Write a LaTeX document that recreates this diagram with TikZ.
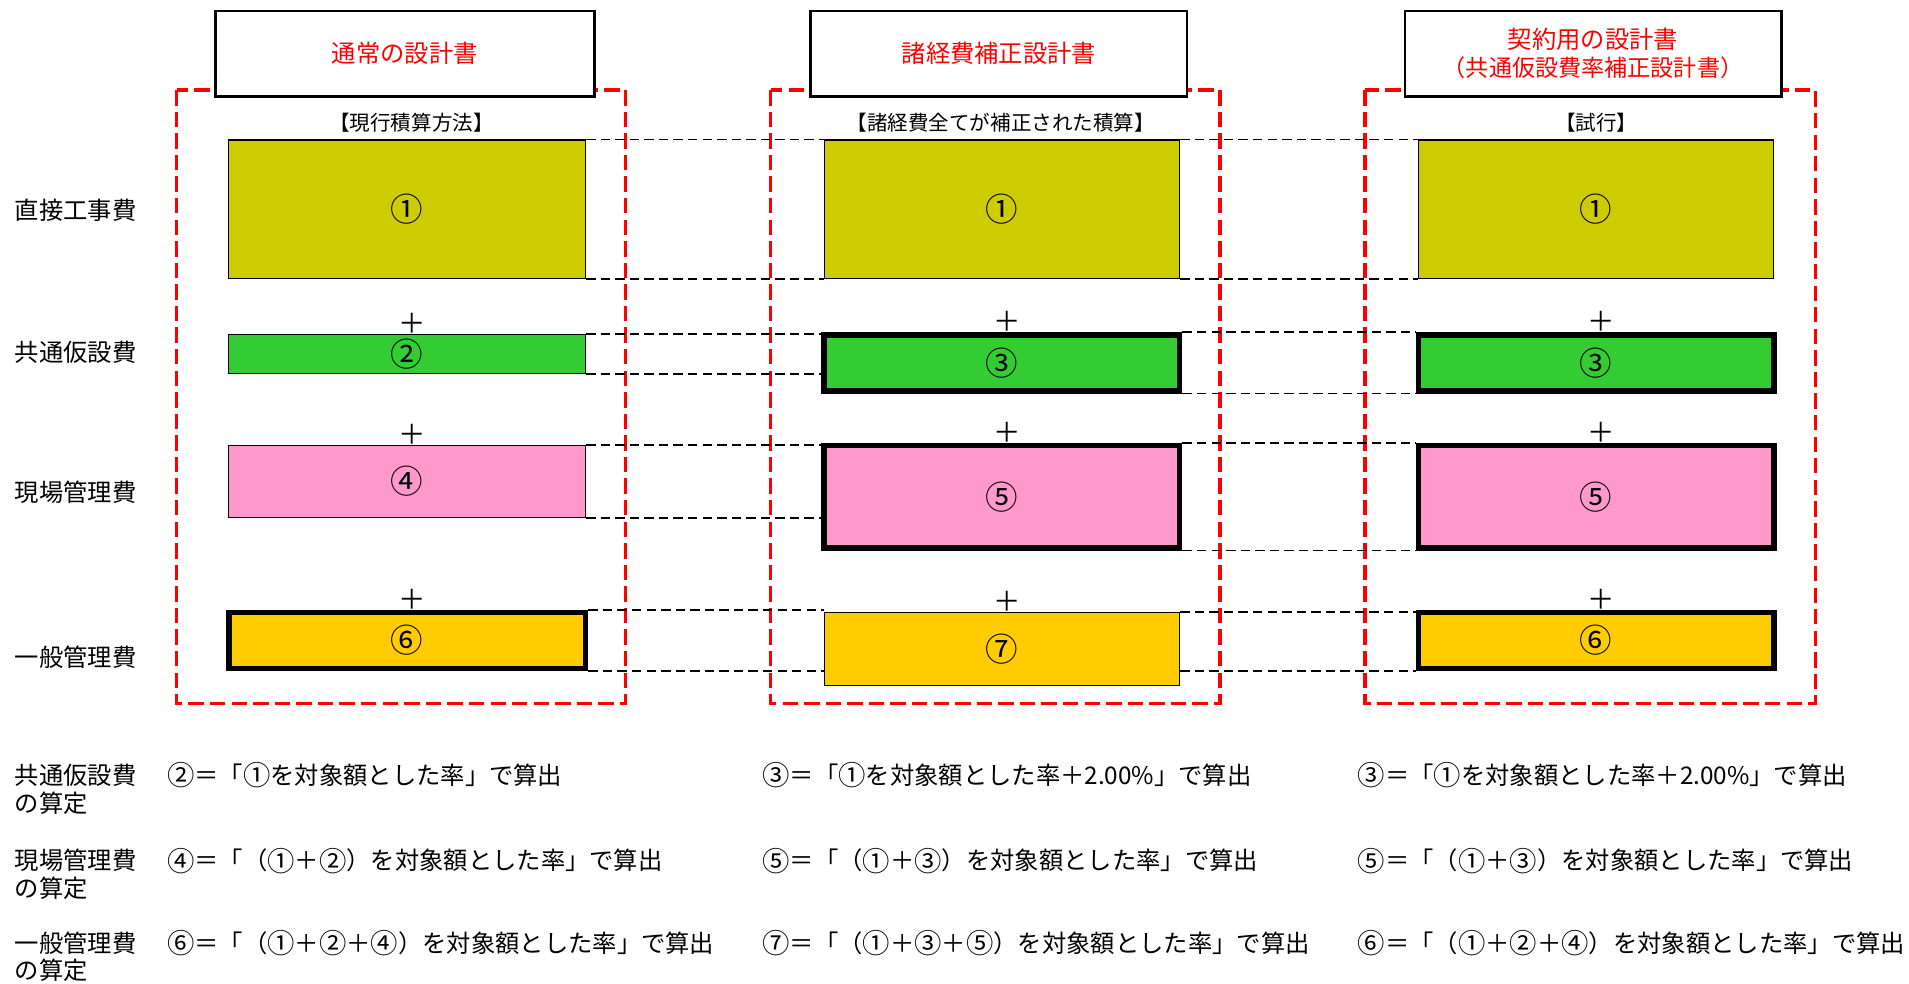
\documentclass[tikz,border=0pt]{standalone}
\usepackage{fontspec}
\setmainfont{Noto Sans CJK JP}
\usepackage{tikz}
\usetikzlibrary{positioning,fit}

\definecolor{olivebox}{HTML}{CCCC00}
\definecolor{greenbox}{HTML}{33CC33}
\definecolor{pinkbox}{HTML}{FF99CC}
\definecolor{goldbox}{HTML}{FFCC00}

\newcommand{\cn}[1]{{\fontsize{16}{16}\selectfont\raisebox{-0.8pt}{#1}}}

\tikzset{
  headbox/.style={draw, line width=1.6pt, fill=white, inner sep=0pt},
  headtext/.style={inner sep=0pt, text=red, align=center},
  redframe/.style={draw=red, line width=2pt, dash pattern=on 9pt off 3.6pt},
  costthin/.style={draw, line width=0.6pt, inner sep=0pt},
  costthick/.style={draw, line width=3.2pt, inner sep=0pt},
  costno/.style={inner sep=0pt, font=\fontsize{19}{19}\selectfont},
  guide/.style={line width=1pt, dash pattern=on 5.5pt off 3pt},
  plussign/.style={inner sep=0pt, xshift=3pt, font=\fontsize{16}{16}\selectfont},
  subtitle/.style={inner sep=0pt, font=\fontsize{12}{14}\selectfont},
  rowlabel/.style={anchor=west, inner sep=0pt}
}

\begin{document}
\begin{tikzpicture}[x=0.025cm,y=-0.025cm,font=\fontsize{14.2}{16.5}\selectfont]
\useasboundingbox (0,0) rectangle (1568,808);
%%frames
\draw[redframe] (145,74) rectangle (514,578);
\draw[redframe] (633,74) rectangle (1002,578);
\draw[redframe] (1121,74) rectangle (1491,578);

%%headings
\node[headbox, fit={(177,9) (488,79)}] (hn) {};
\node[headbox, fit={(666,9) (975,79)}] (hs) {};
\node[headbox, fit={(1154,9) (1463,79)}] (hk) {};
\node[headtext] (hnt) at (hn.center) {通常の設計書};
\node[headtext] (hst) at (hs.center) {諸経費補正設計書};
\node[headtext] (hkt) at (hk.center) {契約用の設計書\\{\fontsize{13.5}{16}\selectfont （共通仮設費率補正設計書）}};
\node[subtitle] (tn) at (338,101) {【現行積算方法】};
\node[subtitle] (ts) at (822,101) {【諸経費全てが補正された積算】};
\node[subtitle] (tk) at (1311,101) {【試行】};

%%cost blocks
\node[costthin, fill=olivebox, fit={(188,115) (481,229)}] (n1) {};
\node[costthin, fill=olivebox, fit={(677,115) (969,229)}] (s1) {};
\node[costthin, fill=olivebox, fit={(1165,115) (1457,229)}] (k1) {};
\node[costthin, fill=greenbox, fit={(188,275) (481,307)}] (n2) {};
\node[costthick, fill=greenbox, fit={(677,275) (969,321)}] (s2) {};
\node[costthick, fill=greenbox, fit={(1165,275) (1457,321)}] (k2) {};
\node[costthin, fill=pinkbox, fit={(188,366) (481,425)}] (n3) {};
\node[costthick, fill=pinkbox, fit={(677,366) (969,450)}] (s3) {};
\node[costthick, fill=pinkbox, fit={(1165,366) (1457,450)}] (k3) {};
\node[costthick, fill=goldbox, fit={(188,503) (481,549)}] (n4) {};
\node[costthin, fill=goldbox, fit={(677,503) (969,563)}] (s4) {};
\node[costthick, fill=goldbox, fit={(1165,503) (1457,549)}] (k4) {};

\node[costno] (n1t) at (n1.center) {①};
\node[costno] (s1t) at (s1.center) {①};
\node[costno] (k1t) at (k1.center) {①};
\node[costno] (n2t) at (n2.center) {②};
\node[costno] (s2t) at (s2.center) {③};
\node[costno] (k2t) at (k2.center) {③};
\node[costno] (n3t) at (n3.center) {④};
\node[costno] (s3t) at (s3.center) {⑤};
\node[costno] (k3t) at (k3.center) {⑤};
\node[costno] (n4t) at (n4.center) {⑥};
\node[costno] (s4t) at (s4.center) {⑦};
\node[costno] (k4t) at (k4.center) {⑥};

%%plus signs
\node[plussign, above=0pt of n2] (pn2) {＋};
\node[plussign, above=0pt of s2] (ps2) {＋};
\node[plussign, above=0pt of k2] (pk2) {＋};
\node[plussign, above=0pt of n3] (pn3) {＋};
\node[plussign, above=0pt of s3] (ps3) {＋};
\node[plussign, above=0pt of k3] (pk3) {＋};
\node[plussign, above=0pt of n4] (pn4) {＋};
\node[plussign, above=0pt of s4] (ps4) {＋};
\node[plussign, above=0pt of k4] (pk4) {＋};

%%guides
\draw[guide] (n1.north east) -- (n1.north east -| s1.west);
\draw[guide] (s1.north east) -- (s1.north east -| k1.west);
\draw[guide] (n1.south east) -- (n1.south east -| s1.west);
\draw[guide] (s1.south east) -- (s1.south east -| k1.west);
\draw[guide] (n2.north east) -- (n2.north east -| s2.west);
\draw[guide] (s2.north east) -- (s2.north east -| k2.west);
\draw[guide] (n2.south east) -- (n2.south east -| s2.west);
\draw[guide] (s2.south east) -- (s2.south east -| k2.west);
\draw[guide] (n3.north east) -- (n3.north east -| s3.west);
\draw[guide] (s3.north east) -- (s3.north east -| k3.west);
\draw[guide] (n3.south east) -- (n3.south east -| s3.west);
\draw[guide] (s3.south east) -- (s3.south east -| k3.west);
\draw[guide] (n4.north east) -- (n4.north east -| s4.west);
\draw[guide] (s4.north east) -- (s4.north east -| k4.west);
\draw[guide] (n4.south east) -- (n4.south east -| s4.west);
\draw[guide] (k4.south west -| s4.east) -- (k4.south west);

%%row labels
\node[rowlabel] (l1) at (12,173) {直接工事費};
\node[rowlabel] (l2) at (12,289) {共通仮設費};
\node[rowlabel] (l3) at (12,404) {現場管理費};
\node[rowlabel] (l4) at (12,540) {一般管理費};

%%calculation notes
\node[rowlabel] (c2) at (12,637) {共通仮設費};
\node[rowlabel] (c2b) at (12,660) {の算定};
\node[rowlabel] (c3) at (12,707) {現場管理費};
\node[rowlabel] (c3b) at (12,730) {の算定};
\node[rowlabel] (c4) at (12,775) {一般管理費};
\node[rowlabel] (c4b) at (12,797) {の算定};
\node[rowlabel] (fn2) at (137,637) {\cn{②}＝「\cn{①}を対象額とした率」で算出};
\node[rowlabel] (fs2) at (626,637) {\cn{③}＝「\cn{①}を対象額とした率＋2.00\%」で算出};
\node[rowlabel] (fk2) at (1115,637) {\cn{③}＝「\cn{①}を対象額とした率＋2.00\%」で算出};
\node[rowlabel] (fn3) at (137,707) {\cn{④}＝「（\cn{①}＋\cn{②}）を対象額とした率」で算出};
\node[rowlabel] (fs3) at (626,707) {\cn{⑤}＝「（\cn{①}＋\cn{③}）を対象額とした率」で算出};
\node[rowlabel] (fk3) at (1115,707) {\cn{⑤}＝「（\cn{①}＋\cn{③}）を対象額とした率」で算出};
\node[rowlabel] (fn4) at (137,775) {\cn{⑥}＝「（\cn{①}＋\cn{②}＋\cn{④}）を対象額とした率」で算出};
\node[rowlabel] (fs4) at (626,775) {\cn{⑦}＝「（\cn{①}＋\cn{③}＋\cn{⑤}）を対象額とした率」で算出};
\node[rowlabel] (fk4) at (1115,775) {\cn{⑥}＝「（\cn{①}＋\cn{②}＋\cn{④}）を対象額とした率」で算出};
\end{tikzpicture}
\end{document}
